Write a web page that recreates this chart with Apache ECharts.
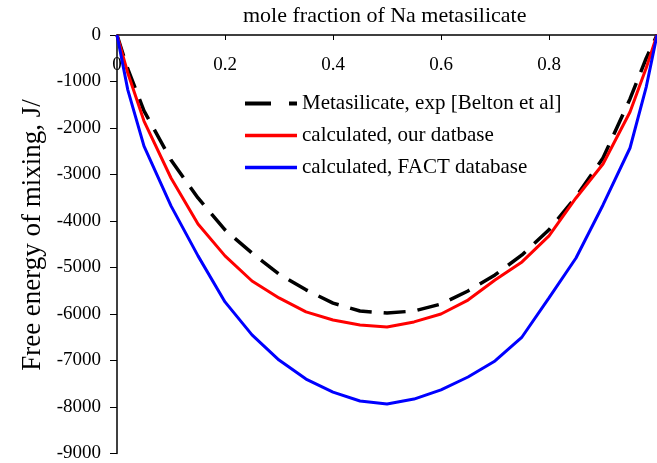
<!DOCTYPE html>
<html>
<head>
<meta charset="utf-8">
<script src="https://cdn.jsdelivr.net/npm/echarts@6/dist/echarts.min.js"></script>
<style>html,body{margin:0;padding:0;background:#fff;}#c{width:657px;height:463px;}</style>
</head>
<body>
<div id="c"></div>
<script>
var xValues = [0, 0.02, 0.05, 0.1, 0.15, 0.2, 0.25, 0.3, 0.35, 0.4, 0.45, 0.5, 0.55, 0.6, 0.65, 0.7, 0.75, 0.8, 0.85, 0.9, 0.95, 0.98, 1];
var beltonExp = [0, -731, -1630, -2690, -3505, -4190, -4690, -5140, -5480, -5765, -5935, -5980, -5935, -5785, -5505, -5160, -4730, -4190, -3480, -2645, -1375, -500, 0];
var calcOurDb = [0, -817, -1850, -3075, -4065, -4750, -5290, -5655, -5955, -6130, -6235, -6280, -6170, -6000, -5700, -5270, -4880, -4320, -3505, -2775, -1655, -710, 0];
var calcFact = [0, -1180, -2390, -3675, -4750, -5740, -6450, -6990, -7400, -7680, -7870, -7935, -7830, -7630, -7355, -7010, -6495, -5655, -4795, -3655, -2430, -1120, 0];
var seriesNames = ['Metasilicate, exp [Belton et al]', 'calculated, our datbase', 'calculated, FACT database'];
var titleText = 'mole fraction of Na metasilicate';
var yAxisTitle = 'Free energy of mixing, J/';

function pairs(ys) { return xValues.map(function (x, i) { return [x, ys[i]]; }); }
var FONT = '"Liberation Serif", "Times New Roman", serif';
var chart = echarts.init(document.getElementById('c'), null, {renderer: 'canvas'});
chart.setOption({
  animation: false,
  backgroundColor: '#ffffff',
  title: {
    text: titleText, left: 238, top: 0,
    textStyle: {fontFamily: FONT, fontSize: 22, fontWeight: 'normal', color: '#000'}
  },
  graphic: [{
    type: 'text', x: 33, y: 235, rotation: Math.PI / 2,
    style: {text: yAxisTitle, font: '27px ' + FONT, fill: '#000', textAlign: 'center', textVerticalAlign: 'middle'}
  }],
  legend: {
    orient: 'vertical', left: 243, top: 93, padding: 0, itemWidth: 52, itemHeight: 18, itemGap: 11,
    itemStyle: {opacity: 0},
    textStyle: {fontFamily: FONT, fontSize: 21, color: '#000'},
    data: [
      {name: seriesNames[0], lineStyle: {color: '#000', width: 4, type: [26, 18]}},
      {name: seriesNames[1], lineStyle: {color: '#ff0000', width: 3.5}},
      {name: seriesNames[2], lineStyle: {color: '#0000ff', width: 3.5}}
    ]
  },
  grid: {left: 117, top: 35, width: 547, height: 419, containLabel: false},
  xAxis: {
    type: 'value', position: 'top', min: 0, max: 1, interval: 0.2,
    axisLine: {show: true, lineStyle: {color: '#000', width: 1.5}},
    axisTick: {show: true, inside: true, length: 5, lineStyle: {color: '#000'}},
    axisLabel: {inside: true, margin: 21, showMaxLabel: false, fontFamily: FONT, fontSize: 19, color: '#000'},
    splitLine: {show: false}
  },
  yAxis: {
    type: 'value', min: -9000, max: 0, interval: 1000,
    axisLine: {show: true, lineStyle: {color: '#000', width: 1.5}},
    axisTick: {show: true, length: 7, lineStyle: {color: '#000'}},
    axisLabel: {margin: 16, fontFamily: FONT, fontSize: 19, color: '#000', formatter: function (v) { return String(v); }},
    splitLine: {show: false}
  },
  series: [
    {name: seriesNames[0], type: 'line', data: pairs(beltonExp), showSymbol: false, symbol: 'none',
     color: '#000', lineStyle: {color: '#000', width: 3.5, type: [22, 12]}},
    {name: seriesNames[1], type: 'line', data: pairs(calcOurDb), showSymbol: false, symbol: 'none',
     color: '#ff0000', lineStyle: {color: '#ff0000', width: 3}},
    {name: seriesNames[2], type: 'line', data: pairs(calcFact), showSymbol: false, symbol: 'none',
     color: '#0000ff', lineStyle: {color: '#0000ff', width: 3}}
  ]
});
</script>
</body>
</html>
